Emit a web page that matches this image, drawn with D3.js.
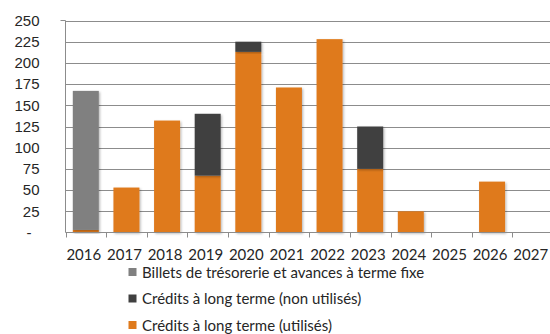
<!DOCTYPE html>
<html>
<head>
<meta charset="utf-8">
<script src="https://cdn.jsdelivr.net/npm/d3@7"></script>
<style>
  html, body { margin: 0; padding: 0; background: #fff; }
  svg { display: block; font-family: Lato, "Open Sans", sans-serif; }
</style>
</head>
<body>
<svg id="chart" width="550" height="334"></svg>
<script>
// Échéancier des financements (en millions)
const years = ["2016","2017","2018","2019","2020","2021","2022","2023","2024","2025","2026","2027"];
const creditsUtilises   = [3, 53, 132, 67, 213, 171, 228, 75, 25, 0, 60, 0];
const creditsNonUtilises = [0, 0, 0, 73, 12, 0, 0, 50, 0, 0, 0, 0];
const billets           = [164, 0, 0, 0, 0, 0, 0, 0, 0, 0, 0, 0];
const yTicks = [0, 25, 50, 75, 100, 125, 150, 175, 200, 225, 250];

const seriesNames = [
  "Crédits à long terme (utilisés)",
  "Crédits à long terme (non utilisés)",
  "Billets de trésorerie et avances à terme fixe"
];
const seriesColors = ["#DF7A1C", "#404040", "#808080"];

const rows = years.map((y, i) => ({
  year: y,
  s0: creditsUtilises[i],
  s1: creditsNonUtilises[i],
  s2: billets[i]
}));
const stacked = d3.stack().keys(["s0", "s1", "s2"])(rows);

const svg = d3.select("#chart");
const x = d3.scaleBand().domain(years).range([65.5, 553]).paddingInner(0.36).paddingOuter(0.18);
const xAxisBand = d3.scaleBand().domain(years).range([65.5, 553]);
const y = d3.scaleLinear().domain([0, 250]).range([232.5, 20.5]);

const defs = svg.append("defs");
const f = defs.append("filter").attr("id", "shadow").attr("x", "-20%").attr("y", "-10%").attr("width", "150%").attr("height", "130%");
f.append("feDropShadow").attr("dx", 1.2).attr("dy", 1.2).attr("stdDeviation", 1).attr("flood-color", "#000").attr("flood-opacity", 0.28);

// grid lines
svg.append("g").selectAll("line").data(yTicks.filter(t => t > 0)).join("line")
  .attr("x1", 65.5).attr("x2", 550)
  .attr("y1", d => Math.round(y(d)) + 0.5).attr("y2", d => Math.round(y(d)) + 0.5)
  .attr("stroke", "#8c8c8c").attr("stroke-width", 1);

// bars
svg.append("g").selectAll("g").data(stacked).join("g")
  .attr("fill", (d, i) => seriesColors[i])
  .selectAll("rect").data(d => d.filter(p => p[1] - p[0] > 0)).join("rect")
  .attr("x", d => x(d.data.year))
  .attr("width", x.bandwidth())
  .attr("y", d => y(d[1]))
  .attr("height", d => y(d[0]) - y(d[1]))
  .attr("filter", "url(#shadow)");

// y axis
const yAxis = d3.axisLeft(y).tickValues(yTicks).tickSize(5).tickPadding(14)
  .tickFormat(d => d === 0 ? "-" : d);
const gy = svg.append("g").attr("transform", "translate(65.5,0)").call(yAxis);
gy.select(".domain").attr("stroke", "#8c8c8c").attr("d", "M-5,20.5H0V232.5");
gy.selectAll(".tick line").attr("stroke", "#8c8c8c").attr("x1", -5);
gy.selectAll(".tick text").attr("fill", "#262626").style("font-size", "15px")
  .attr("x", d => d === 0 ? -34 : -26);

// x axis
const gx = svg.append("g").attr("transform", "translate(0,232.5)");
gx.append("line").attr("x1", 65.5).attr("x2", 550).attr("stroke", "#8c8c8c");
gx.selectAll("line.tk").data(years.concat(["end"])).join("line").attr("class", "tk")
  .attr("x1", (d, i) => Math.round(65.5 + i * xAxisBand.step()) + 0.5)
  .attr("x2", (d, i) => Math.round(65.5 + i * xAxisBand.step()) + 0.5)
  .attr("y1", 0).attr("y2", 5).attr("stroke", "#8c8c8c");
gx.selectAll("text").data(years).join("text")
  .attr("x", d => xAxisBand(d) + xAxisBand.bandwidth() / 2 - 2)
  .attr("y", 27)
  .attr("text-anchor", "middle")
  .attr("fill", "#262626").style("font-size", "15px")
  .text(d => d);

// legend
const legendOrder = [2, 1, 0];
const lg = svg.append("g");
legendOrder.forEach((si, k) => {
  const cy = 272 + k * 26.5;
  lg.append("rect").attr("x", 128.5).attr("y", cy - 4).attr("width", 8).attr("height", 8).attr("fill", seriesColors[si]);
  lg.append("text").attr("x", 142).attr("y", cy + 5.5).attr("fill", "#262626").style("font-size", "15px").text(seriesNames[si]);
});
</script>
</body>
</html>
